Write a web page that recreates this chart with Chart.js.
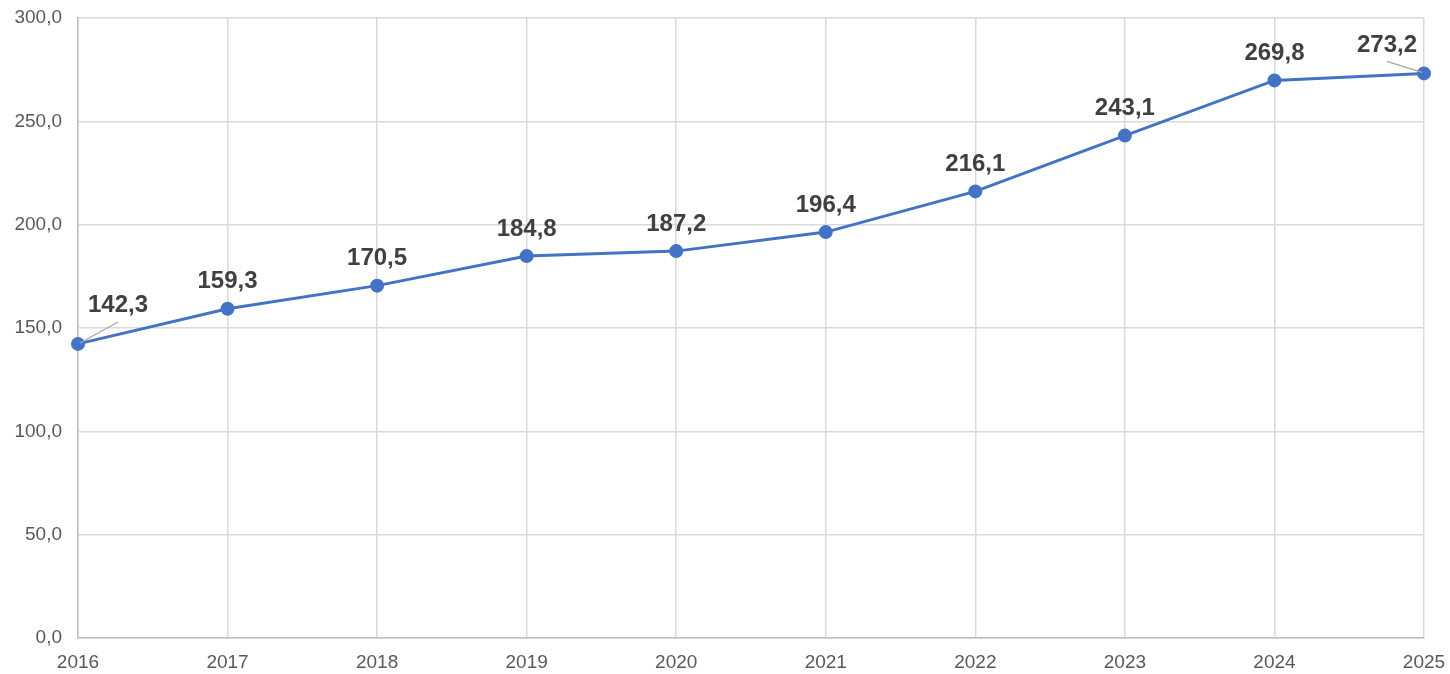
<!DOCTYPE html>
<html>
<head>
<meta charset="utf-8">
<script src="https://cdn.jsdelivr.net/npm/chart.js@4/dist/chart.umd.min.js"></script>
<style>
html,body{margin:0;padding:0;background:#fff;}
#wrap{width:1450px;height:674px;position:relative;}
</style>
</head>
<body>
<div id="wrap"><canvas id="c"></canvas></div>
<script>
const categories = ['2016','2017','2018','2019','2020','2021','2022','2023','2024','2025'];
const values = [142.3, 159.3, 170.5, 184.8, 187.2, 196.4, 216.1, 243.1, 269.8, 273.2];
const yTicks = [0, 50, 100, 150, 200, 250, 300];

const fmt = v => v.toFixed(1).replace('.', ',');

const labelPlugin = {
  id: 'valueLabels',
  afterDatasetsDraw(chart) {
    const ctx = chart.ctx;
    const meta = chart.getDatasetMeta(0);
    const n = meta.data.length;
    ctx.save();
    ctx.font = 'bold 24px "Liberation Sans", Arial, sans-serif';
    ctx.fillStyle = '#404040';
    ctx.textAlign = 'center';
    ctx.textBaseline = 'middle';
    meta.data.forEach((pt, i) => {
      let dx = 0, dy = -27, leader = false;
      if (i === 0) { dx = 40; dy = -39; leader = true; }
      if (i === n - 1) { dx = -37; dy = -28; leader = true; }
      if (leader) {
        ctx.strokeStyle = '#a6a6a6';
        ctx.lineWidth = 1.2;
        ctx.beginPath();
        if (i === 0) { ctx.moveTo(pt.x + 2, pt.y - 1); ctx.lineTo(pt.x + 40, pt.y - 22); }
        else { ctx.moveTo(pt.x - 37, pt.y - 12); ctx.lineTo(pt.x - 2, pt.y - 1); }
        ctx.stroke();
      }
      ctx.fillText(fmt(chart.data.datasets[0].data[i]), pt.x + dx, pt.y + dy);
    });
    ctx.restore();
  }
};

new Chart(document.getElementById('c'), {
  type: 'line',
  data: {
    labels: categories,
    datasets: [{
      data: values,
      borderColor: '#4472C4',
      backgroundColor: '#4472C4',
      borderWidth: 3,
      pointRadius: 5.5,
      pointHoverRadius: 5.5,
      pointBackgroundColor: '#4472C4',
      pointBorderColor: '#4472C4',
      tension: 0,
      fill: false
    }]
  },
  options: {
    responsive: true,
    maintainAspectRatio: false,
    animation: false,
    layout: { padding: { left: 0, right: 26, top: 18, bottom: 0 } },
    plugins: { legend: { display: false }, tooltip: { enabled: false } },
    scales: {
      x: {
        offset: false,
        afterFit: axis => { axis.height = 36; axis.paddingLeft = 0; axis.paddingRight = 0; },
        grid: { color: '#d9d9d9', lineWidth: 1.5, drawTicks: false },
        border: { color: '#bfbfbf', width: 1.5 },
        ticks: {
          color: '#595959', padding: 13, maxRotation: 0, autoSkip: false,
          font: { family: '"Liberation Sans", Arial, sans-serif', size: 19 }
        }
      },
      y: {
        min: 0, max: 300,
        afterFit: axis => { axis.width = 78; axis.paddingTop = 0; axis.paddingBottom = 0; },
        afterBuildTicks: axis => { axis.ticks = yTicks.map(v => ({ value: v })); },
        grid: { color: '#d9d9d9', lineWidth: 1.5, drawTicks: false },
        border: { color: '#bfbfbf', width: 1.5 },
        ticks: {
          color: '#595959', padding: 16,
          font: { family: '"Liberation Sans", Arial, sans-serif', size: 19 },
          callback: v => fmt(v)
        }
      }
    }
  },
  plugins: [labelPlugin]
});
</script>
</body>
</html>
